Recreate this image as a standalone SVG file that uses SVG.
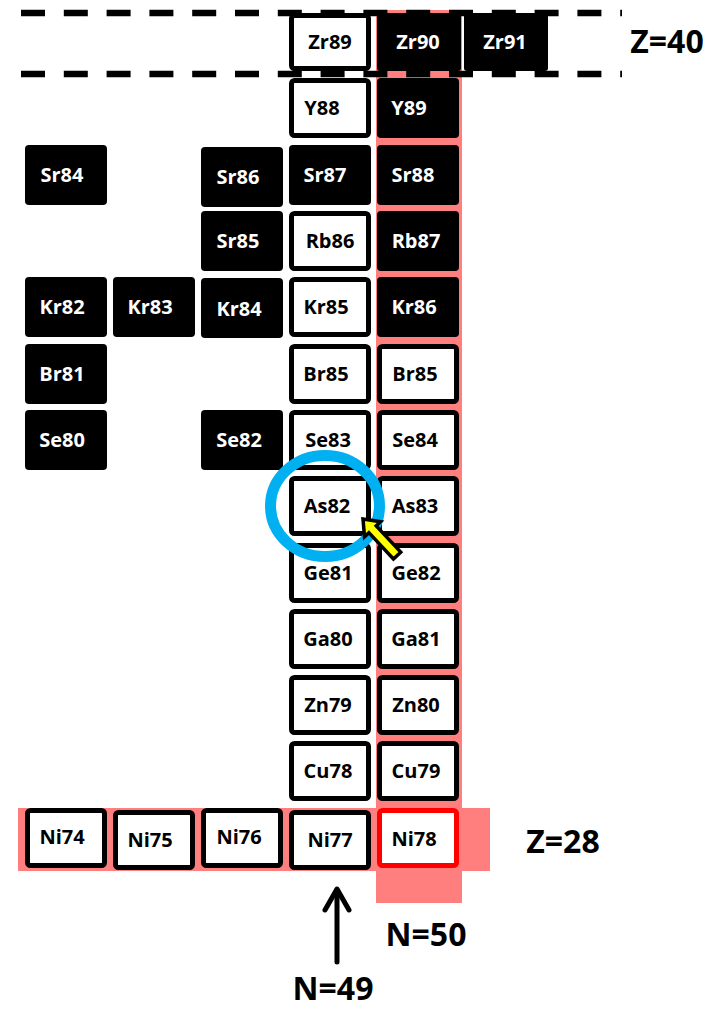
<svg xmlns="http://www.w3.org/2000/svg" width="718" height="1009" viewBox="0 0 718 1009">
<style>
text{font-family:"Open Sans","Liberation Sans",sans-serif;font-weight:bold;text-anchor:middle}
.b rect{fill:#000}
.b text{fill:#fff;font-size:20px}
.w rect{fill:#fff;stroke:#000;stroke-width:5}
.w text{fill:#000;font-size:20px}
.r rect{stroke:#ff0000}
.lbl{font-size:32px;fill:#000}
.band{fill:#ff7f7f}
</style>
<rect id="band-n50" class="band" x="376" y="10" width="86" height="893"/>
<rect id="band-z28" class="band" x="18" y="808" width="472" height="63"/>
<g id="zshell-40" stroke="#000" stroke-width="6.5" stroke-dasharray="24 18.8">
<line x1="21" y1="13" x2="622" y2="13"/>
<line x1="21" y1="74" x2="622" y2="74"/>
</g>
<g id="Zr89" class="w"><rect x="291.5" y="15.5" width="77" height="53" rx="3"/><text x="330" y="49">Zr89</text></g>
<g id="Zr90" class="b"><rect x="377" y="13" width="84" height="58" rx="3"/><text x="418" y="49">Zr90</text></g>
<g id="Zr91" class="b"><rect x="464" y="13" width="84" height="58" rx="3"/><text x="505" y="49">Zr91</text></g>
<g id="Y88" class="w"><rect x="291.5" y="80.5" width="77" height="55" rx="3"/><text x="322" y="115">Y88</text></g>
<g id="Y89" class="b"><rect x="377" y="78" width="82" height="60" rx="4"/><text x="409" y="115">Y89</text></g>
<g id="Sr84" class="b"><rect x="25" y="145" width="82" height="60" rx="4"/><text x="62" y="182">Sr84</text></g>
<g id="Sr86" class="b"><rect x="201" y="147" width="82" height="60" rx="4"/><text x="238" y="184">Sr86</text></g>
<g id="Sr87" class="b"><rect x="289" y="145" width="82" height="60" rx="4"/><text x="325" y="182">Sr87</text></g>
<g id="Sr88" class="b"><rect x="377" y="145" width="82" height="60" rx="4"/><text x="413" y="182">Sr88</text></g>
<g id="Sr85" class="b"><rect x="201" y="211" width="82" height="60" rx="4"/><text x="238" y="248">Sr85</text></g>
<g id="Rb86" class="w"><rect x="291.5" y="213.5" width="77" height="55" rx="3"/><text x="330" y="248">Rb86</text></g>
<g id="Rb87" class="b"><rect x="377" y="211" width="82" height="60" rx="4"/><text x="416" y="248">Rb87</text></g>
<g id="Kr82" class="b"><rect x="25" y="277" width="82" height="60" rx="4"/><text x="62" y="314">Kr82</text></g>
<g id="Kr83" class="b"><rect x="113" y="277" width="82" height="60" rx="4"/><text x="150" y="314">Kr83</text></g>
<g id="Kr84" class="b"><rect x="201" y="278" width="82" height="60" rx="4"/><text x="239" y="316">Kr84</text></g>
<g id="Kr85" class="w"><rect x="291.5" y="279.5" width="77" height="55" rx="3"/><text x="326" y="314">Kr85</text></g>
<g id="Kr86" class="b"><rect x="377" y="277" width="82" height="60" rx="4"/><text x="414" y="314">Kr86</text></g>
<g id="Br81" class="b"><rect x="25" y="344" width="82" height="60" rx="4"/><text x="62" y="381">Br81</text></g>
<g id="Br85-a" class="w"><rect x="291.5" y="346.5" width="77" height="55" rx="3"/><text x="326" y="381">Br85</text></g>
<g id="Br85-b" class="w"><rect x="379.5" y="346.5" width="77" height="55" rx="3"/><text x="415" y="381">Br85</text></g>
<g id="Se80" class="b"><rect x="25" y="410" width="82" height="60" rx="4"/><text x="62" y="447">Se80</text></g>
<g id="Se82" class="b"><rect x="201" y="410" width="82" height="60" rx="4"/><text x="239" y="447">Se82</text></g>
<g id="Se83" class="w"><rect x="291.5" y="412.5" width="77" height="55" rx="3"/><text x="328" y="447">Se83</text></g>
<g id="Se84" class="w"><rect x="379.5" y="412.5" width="77" height="55" rx="3"/><text x="415" y="447">Se84</text></g>
<g id="As82" class="w"><rect x="291.5" y="478.5" width="77" height="55" rx="3"/><text x="327" y="513">As82</text></g>
<g id="As83" class="w"><rect x="379.5" y="478.5" width="77" height="55" rx="3"/><text x="415" y="513">As83</text></g>
<g id="Ge81" class="w"><rect x="291.5" y="545.5" width="77" height="55" rx="3"/><text x="328" y="580">Ge81</text></g>
<g id="Ge82" class="w"><rect x="379.5" y="545.5" width="77" height="55" rx="3"/><text x="416" y="580">Ge82</text></g>
<g id="Ga80" class="w"><rect x="291.5" y="611.5" width="77" height="55" rx="3"/><text x="328" y="646">Ga80</text></g>
<g id="Ga81" class="w"><rect x="379.5" y="611.5" width="77" height="55" rx="3"/><text x="416" y="646">Ga81</text></g>
<g id="Zn79" class="w"><rect x="291.5" y="677.5" width="77" height="55" rx="3"/><text x="328" y="712">Zn79</text></g>
<g id="Zn80" class="w"><rect x="379.5" y="677.5" width="77" height="55" rx="3"/><text x="416" y="712">Zn80</text></g>
<g id="Cu78" class="w"><rect x="291.5" y="743.5" width="77" height="55" rx="3"/><text x="328" y="778">Cu78</text></g>
<g id="Cu79" class="w"><rect x="379.5" y="743.5" width="77" height="55" rx="3"/><text x="416" y="778">Cu79</text></g>
<g id="Ni74" class="w"><rect x="27.5" y="810.5" width="77" height="55" rx="3"/><text x="62" y="844">Ni74</text></g>
<g id="Ni75" class="w"><rect x="115.5" y="812.5" width="77" height="55" rx="3"/><text x="150" y="847">Ni75</text></g>
<g id="Ni76" class="w"><rect x="203.5" y="810.5" width="77" height="55" rx="3"/><text x="239" y="844">Ni76</text></g>
<g id="Ni77" class="w"><rect x="291.5" y="812.5" width="77" height="55" rx="3"/><text x="330" y="847">Ni77</text></g>
<g id="Ni78" class="w r"><rect x="379.5" y="810.5" width="77" height="55" rx="3"/><text x="414" y="846">Ni78</text></g>
<g id="highlight-circle"><ellipse cx="325" cy="506" rx="54.5" ry="50.5" fill="none" stroke="#00b0f0" stroke-width="11"/></g>
<g id="connectors">
<g id="arrow-n49" fill="none" stroke="#000" stroke-width="5" stroke-linecap="round" stroke-linejoin="round">
<line x1="337" y1="962" x2="337" y2="890"/>
<polyline points="325,910 337,889 349,910"/>
</g>
<polygon id="arrow-yellow" transform="translate(363,519) rotate(47)" points="0,0 14,-11 14,-5 50,-5 50,5 14,5 14,11" fill="#ffff00" stroke="#000" stroke-width="3.5" stroke-linejoin="miter"/>
</g>
<g id="labels">
<text class="lbl" x="667" y="53">Z=40</text>
<text class="lbl" x="563" y="853">Z=28</text>
<text class="lbl" x="426" y="946">N=50</text>
<text class="lbl" x="333" y="1000">N=49</text>
</g>
</svg>
